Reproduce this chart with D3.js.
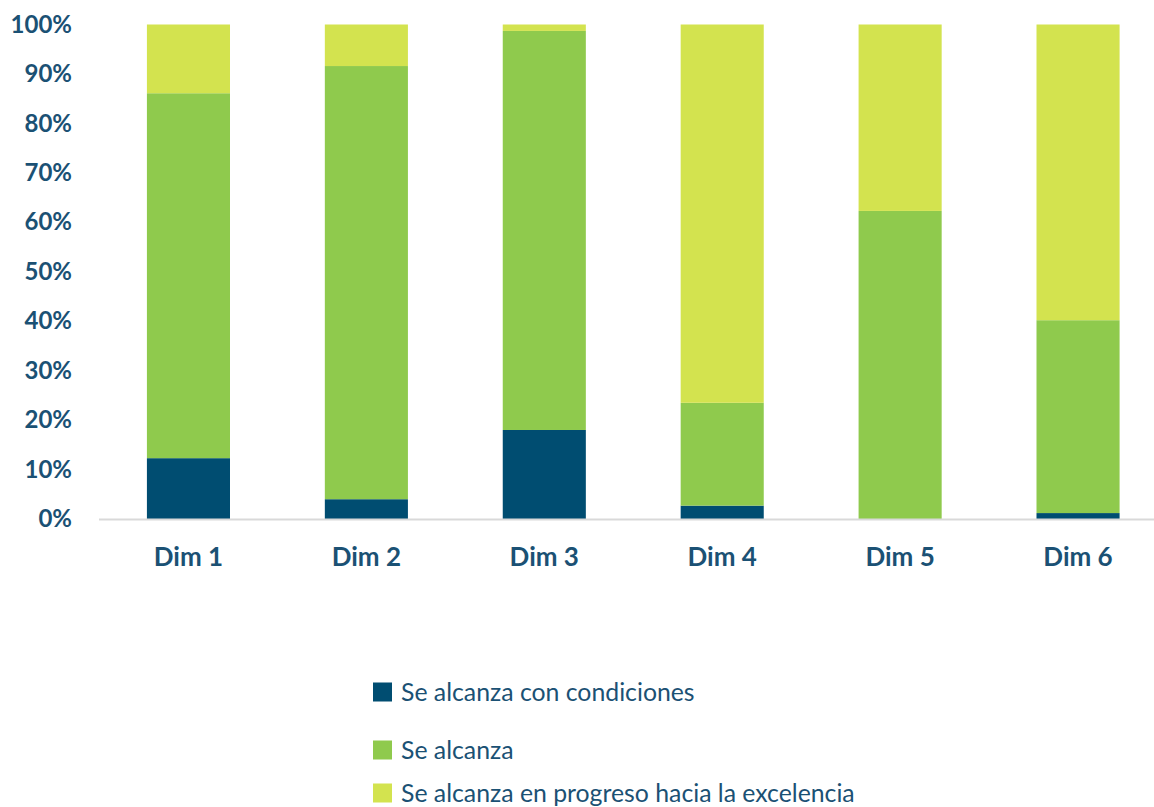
<!DOCTYPE html>
<html><head><meta charset="utf-8">
<script src="https://cdn.jsdelivr.net/npm/d3@7"></script>
<style>body{margin:0;background:#fff;}svg{display:block;}</style>
</head><body>
<svg id="chart" width="1154" height="807"></svg>
<script>
const categories = ["Dim 1","Dim 2","Dim 3","Dim 4","Dim 5","Dim 6"];
const seriesNames = ["Se alcanza con condiciones","Se alcanza","Se alcanza en progreso hacia la excelencia"];
const conCondiciones = [12.3, 4.0, 18.0, 2.7, 0.0, 1.2];
const seAlcanza = [73.8, 87.6, 80.7, 20.8, 62.3, 39.0];
const enProgreso = [13.9, 8.4, 1.3, 76.5, 37.7, 59.8];
const yTicks = [0,10,20,30,40,50,60,70,80,90,100];
const colors = ["#004d71","#8fca4d","#d3e34f"];

const svg = d3.select("#chart");
const textColor = "#1b5174";
const font = "Lato, 'Open Sans', sans-serif";

const x = d3.scaleBand().domain(categories).range([99.5, 1167]).paddingInner(0.533).paddingOuter(0.2665);
const y = d3.scaleLinear().domain([0,100]).range([519, 24.5]);

const rows = categories.map((c,i)=>({cat:c, s0:conCondiciones[i], s1:seAlcanza[i], s2:enProgreso[i]}));
const stack = d3.stack().keys(["s0","s1","s2"])(rows);

svg.append("g").selectAll("g").data(stack).join("g")
  .attr("fill",(d,i)=>colors[i])
  .selectAll("rect").data(d=>d).join("rect")
  .attr("x",d=>x(d.data.cat))
  .attr("width",x.bandwidth())
  .attr("y",d=>y(d[1]))
  .attr("height",d=>Math.max(0,y(d[0])-y(d[1])));

// baseline
svg.append("line").attr("x1",99).attr("x2",1154).attr("y1",y(0)+0.5).attr("y2",y(0)+0.5)
  .attr("stroke","#d9d9d9").attr("stroke-width",2);

// y axis
const yAxis = d3.axisLeft(y).tickValues(yTicks).tickFormat(d=>d+"%").tickSize(0).tickPadding(0);
const yg = svg.append("g").attr("transform","translate(72,0)").call(yAxis);
yg.select(".domain").remove();
yg.selectAll("text").attr("fill",textColor).style("font-family",font).style("font-weight","bold").style("font-size","24px");

// x axis
const xAxis = d3.axisBottom(x).tickSize(0).tickPadding(0);
const xg = svg.append("g").attr("transform","translate(0,548)").call(xAxis);
xg.select(".domain").remove();
xg.selectAll("text").attr("fill",textColor).style("font-family",font).style("font-weight","bold").style("font-size","26px");

// legend
const legendY = [692, 750, 793];
const lg = svg.append("g").selectAll("g").data(seriesNames).join("g")
  .attr("transform",(d,i)=>`translate(373,${legendY[i]})`);
lg.append("rect").attr("x",0).attr("y",-9.5).attr("width",19).attr("height",19).attr("fill",(d,i)=>colors[i]);
lg.append("text").attr("x",28).attr("y",0).attr("dy","0.35em").text(d=>d)
  .attr("fill",textColor).style("font-family",font).style("font-size","24.8px");
</script>
</body></html>
